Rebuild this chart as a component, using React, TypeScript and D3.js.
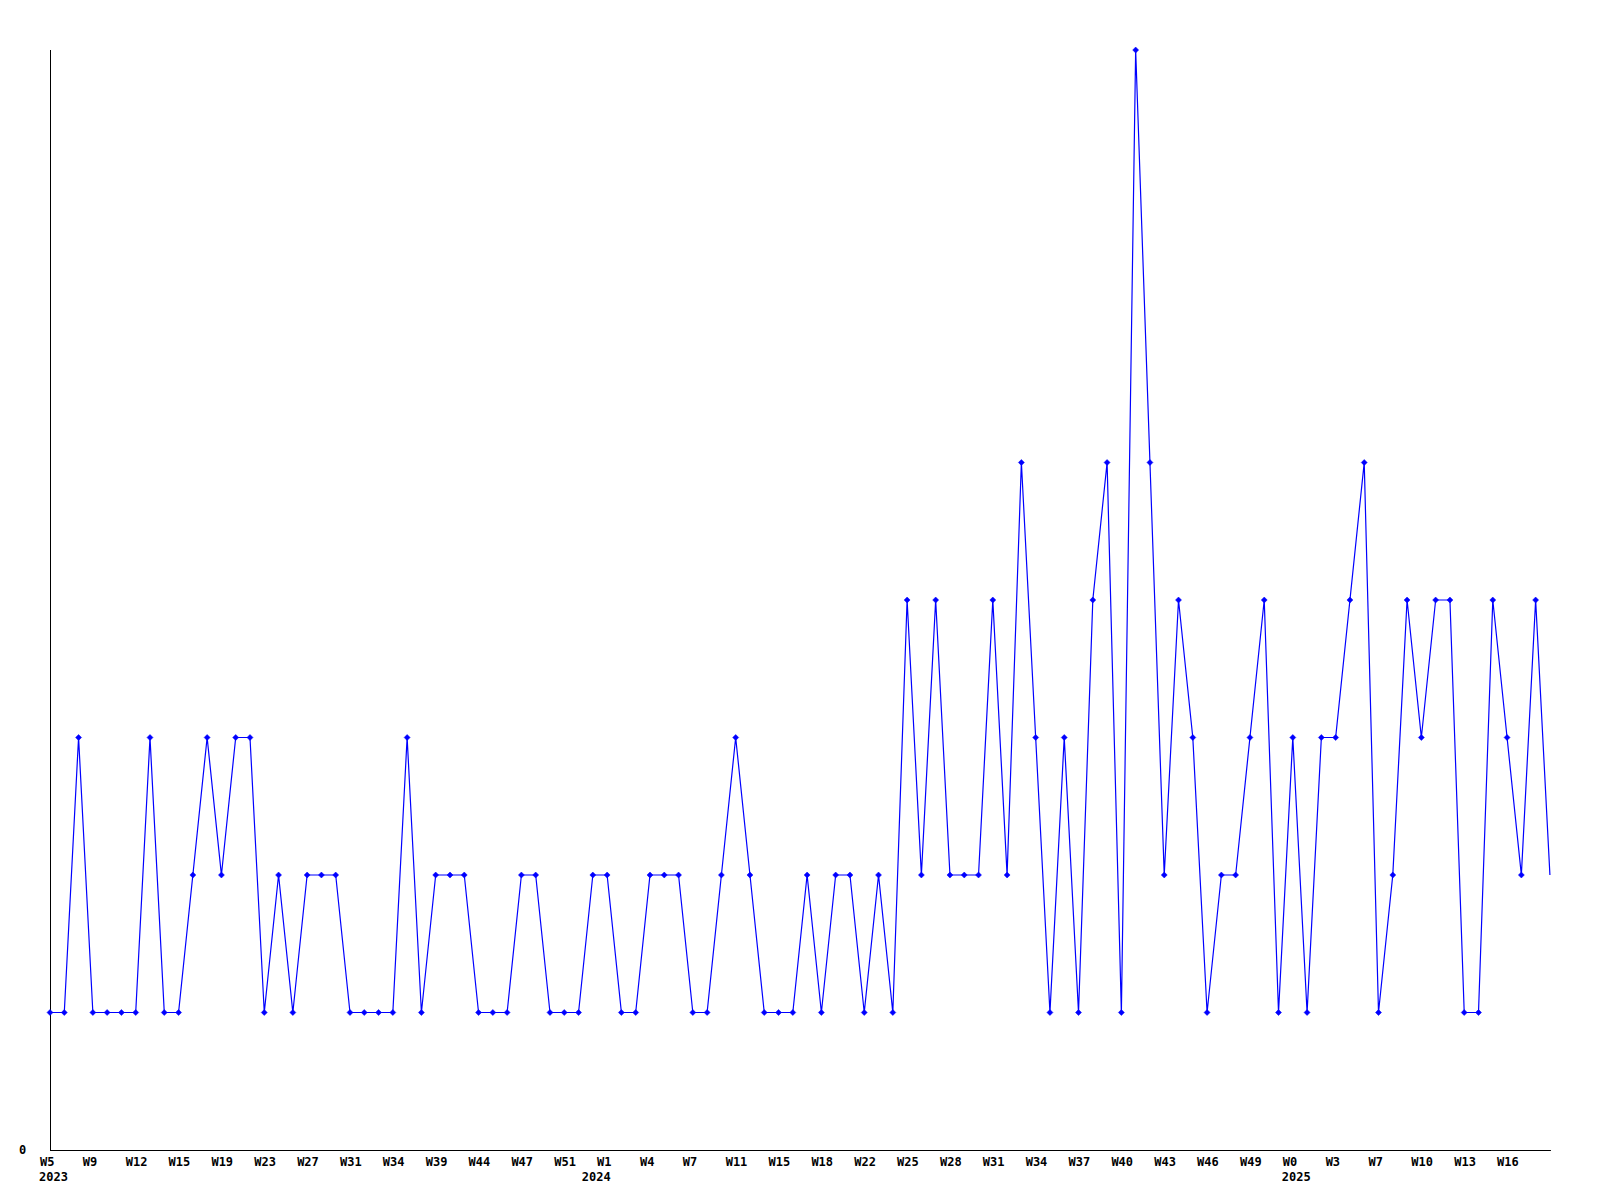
import React from "react";
import * as d3 from "d3";

const values: number[] = [
  1, 1, 3, 1, 1, 1, 1, 3, 1, 1,
  2, 3, 2, 3, 3, 1, 2, 1, 2, 2,
  2, 1, 1, 1, 1, 3, 1, 2, 2, 2,
  1, 1, 1, 2, 2, 1, 1, 1, 2, 2,
  1, 1, 2, 2, 2, 1, 1, 2, 3, 2,
  1, 1, 1, 2, 1, 2, 2, 1, 2, 1,
  4, 2, 4, 2, 2, 2, 4, 2, 5, 3,
  1, 3, 1, 4, 5, 1, 8, 5, 2, 4,
  3, 1, 2, 2, 3, 4, 1, 3, 1, 3,
  3, 4, 5, 1, 2, 4, 3, 4, 4, 1,
  1, 4, 3, 2, 4, 2,
];

const weekLabels: string[] = [
  "W5", "W9", "W12", "W15", "W19", "W23", "W27", "W31", "W34", "W39",
  "W44", "W47", "W51", "W1", "W4", "W7", "W11", "W15", "W18", "W22",
  "W25", "W28", "W31", "W34", "W37", "W40", "W43", "W46", "W49", "W0",
  "W3", "W7", "W10", "W13", "W16",
];
const labelStep = 3;

const yearLabels: { index: number; label: string }[] = [
  { index: 0, label: "2023" },
  { index: 38, label: "2024" },
  { index: 87, label: "2025" },
];

const yTickLabels: number[] = [0];

export default function App() {
  const W = 1600;
  const H = 1200;
  const left = 50;
  const top = 50;
  const bottom = 1150;
  const step = 14.285;
  const x = d3.scaleLinear().domain([0, values.length - 1]).range([left, left + step * (values.length - 1)]);
  const y = d3.scaleLinear().domain([0, 8]).range([bottom, top]);
  const line = d3.line<number>().x((_, i) => x(i)).y((d) => y(d));
  const font = "'DejaVu Sans Mono', monospace";
  const axisEnd = x(values.length - 1) + 1;

  return (
    <svg width={W} height={H} style={{ position: "absolute", left: 0, top: 0, background: "#fff" }}>
      <rect x={0} y={0} width={W} height={H} fill="#fff" />
      <line x1={left + 0.5} y1={top} x2={left + 0.5} y2={bottom + 1} stroke="#000" strokeWidth={1} />
      <line x1={left} y1={bottom + 0.5} x2={axisEnd} y2={bottom + 0.5} stroke="#000" strokeWidth={1} />
      {yTickLabels.map((t) => (
        <text key={t} x={19} y={y(t) + 4} fontFamily={font} fontWeight="bold" fontSize={12} fill="#000">
          {t}
        </text>
      ))}
      {weekLabels.map((l, k) => (
        <text key={k} x={x(k * labelStep) - 10} y={1166} fontFamily={font} fontWeight="bold" fontSize={12} fill="#000">
          {l}
        </text>
      ))}
      {yearLabels.map((yl) => (
        <text key={yl.label} x={x(yl.index) - 11} y={1181} fontFamily={font} fontWeight="bold" fontSize={12} fill="#000">
          {yl.label}
        </text>
      ))}
      <path d={line(values) || ""} fill="none" stroke="#0000ff" strokeWidth={1.2} />
      {values.slice(0, values.length - 1).map((v, i) => {
        const cx = x(i);
        const cy = y(v);
        return (
          <path
            key={i}
            d={`M${cx - 3},${cy} L${cx},${cy - 3} L${cx + 3},${cy} L${cx},${cy + 3} Z`}
            fill="#0000ff"
            stroke="#0000ff"
            strokeWidth={0.5}
          />
        );
      })}
    </svg>
  );
}
